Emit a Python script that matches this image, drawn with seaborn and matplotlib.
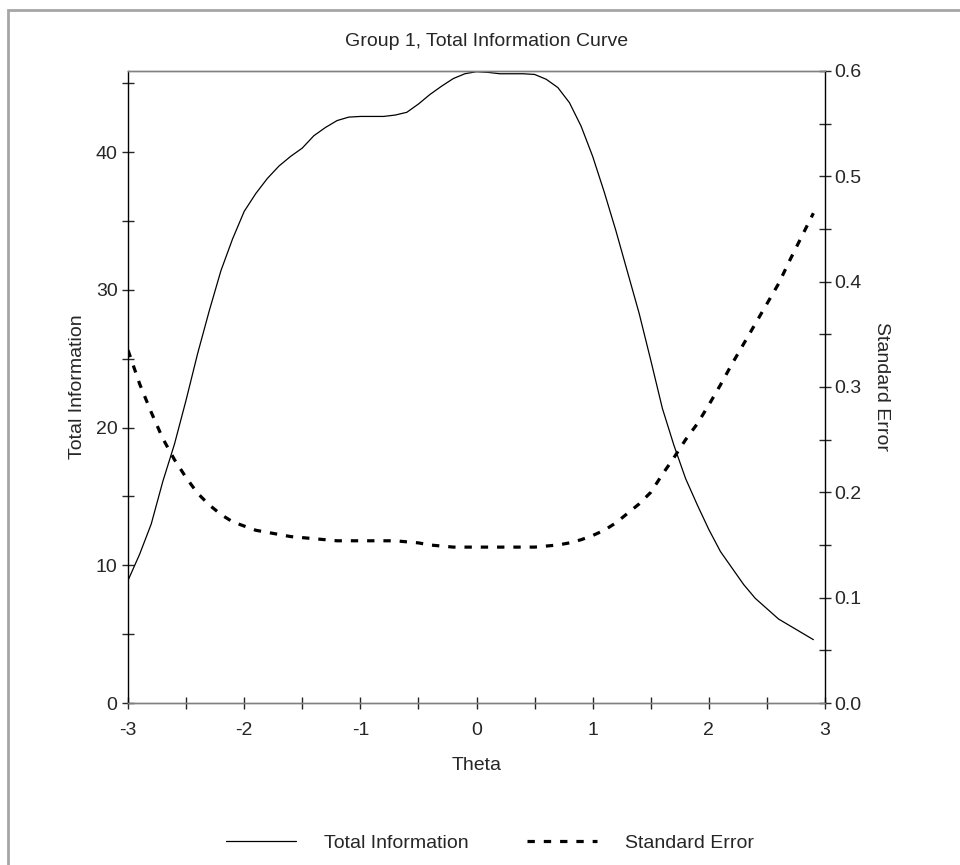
import numpy as np
import pandas as pd
import matplotlib
matplotlib.use("Agg")
import matplotlib.pyplot as plt
import seaborn as sns
from matplotlib.patches import Rectangle
from matplotlib.ticker import MultipleLocator, FormatStrFormatter

# values
theta = [-3.0, -2.9, -2.8, -2.7, -2.6, -2.5, -2.4, -2.3, -2.2, -2.1,
         -2.0, -1.9, -1.8, -1.7, -1.6, -1.5, -1.4, -1.3, -1.2, -1.1,
         -1.0, -0.9, -0.8, -0.7, -0.6, -0.5, -0.4, -0.3, -0.2, -0.1,
         0.0, 0.1, 0.2, 0.3, 0.4, 0.5, 0.6, 0.7, 0.8, 0.9,
         1.0, 1.1, 1.2, 1.3, 1.4, 1.5, 1.6, 1.7, 1.8, 1.9,
         2.0, 2.1, 2.2, 2.3, 2.4, 2.5, 2.6, 2.7, 2.8, 2.9]

total_info = [8.9, 10.8, 13.0, 16.1, 18.8, 22.0, 25.4, 28.5, 31.4, 33.7,
              35.7, 37.0, 38.1, 39.0, 39.7, 40.3, 41.2, 41.8, 42.3, 42.55,
              42.6, 42.6, 42.6, 42.7, 42.9, 43.5, 44.2, 44.8, 45.35, 45.7,
              45.85, 45.8, 45.7, 45.7, 45.7, 45.65, 45.3, 44.7, 43.6, 41.9,
              39.7, 37.1, 34.3, 31.3, 28.3, 24.9, 21.4, 18.7, 16.3, 14.4,
              12.6, 11.0, 9.8, 8.6, 7.6, 6.85, 6.1, 5.6, 5.1, 4.6]

std_err = [0.335, 0.303, 0.276, 0.251, 0.231, 0.214, 0.199, 0.188, 0.179, 0.172,
           0.168, 0.164, 0.162, 0.160, 0.158, 0.157, 0.156, 0.155, 0.154, 0.154,
           0.154, 0.154, 0.154, 0.154, 0.153, 0.152, 0.150, 0.149, 0.148, 0.148,
           0.148, 0.148, 0.148, 0.148, 0.148, 0.148, 0.149, 0.150, 0.152, 0.155,
           0.159, 0.164, 0.171, 0.180, 0.189, 0.200, 0.217, 0.233, 0.250, 0.265,
           0.283, 0.302, 0.322, 0.341, 0.360, 0.379, 0.398, 0.421, 0.443, 0.465]

df = pd.DataFrame({"Theta": theta, "Total Information": total_info,
                   "Standard Error": std_err})

sns.set_style("ticks")
plt.rcParams["font.family"] = ["Liberation Sans", "DejaVu Sans"]
plt.rcParams["axes.unicode_minus"] = False
fs = 14

fig = plt.figure(figsize=(9.6, 8.65), dpi=100)
ax = fig.add_axes([128 / 960, 1 - 703 / 865, 697 / 960, 632 / 865])
ax2 = ax.twinx()

sns.lineplot(data=df, x="Theta", y="Total Information", ax=ax,
             color="black", lw=0.9, label="Total Information")
sns.lineplot(data=df, x="Theta", y="Standard Error", ax=ax2,
             color="black", lw=2.3, linestyle=(0, (2.3, 2.8)),
             label="Standard Error")

ax.set_xlim(-3, 3)
ax.set_ylim(0, 45.9)
ax2.set_ylim(0, 0.6)

for a in (ax, ax2):
    a.get_legend().remove()
    for s in a.spines.values():
        s.set_linewidth(1.0)
    a.spines["top"].set_color("#808080")
    a.spines["bottom"].set_color("#808080")
ax.spines["right"].set_visible(False)
ax2.spines["left"].set_visible(False)
ax.spines["left"].set_color("black")
ax2.spines["right"].set_color("black")

ax.xaxis.set_major_locator(MultipleLocator(1))
ax.xaxis.set_minor_locator(MultipleLocator(0.5))
ax.yaxis.set_major_locator(MultipleLocator(10))
ax.yaxis.set_minor_locator(MultipleLocator(5))
ax2.yaxis.set_major_locator(MultipleLocator(0.1))
ax2.yaxis.set_minor_locator(MultipleLocator(0.05))
ax2.yaxis.set_major_formatter(FormatStrFormatter("%.1f"))

ax.tick_params(axis="x", which="both", direction="inout", length=9, width=1,
               labelsize=fs, pad=9)
ax.tick_params(axis="y", which="both", direction="inout", length=9, width=1,
               labelsize=fs, pad=3)
ax2.tick_params(axis="y", which="both", direction="inout", length=9, width=1,
                labelsize=fs, pad=2)

ax.set_xlabel("Theta", fontsize=fs, labelpad=13)
ax.set_ylabel("Total Information", fontsize=fs, labelpad=7)
ax2.set_ylabel("Standard Error", fontsize=fs, rotation=270, labelpad=21)

fig.text(487 / 960, 1 - 41 / 865, "Group 1, Total Information Curve",
         ha="center", va="center", fontsize=fs)

fig.legend(handles=[ax.lines[0], ax2.lines[0]],
           labels=["Total Information", "Standard Error"],
           loc="center", bbox_to_anchor=(490 / 960, 1 - 843 / 865), ncol=2,
           frameon=False, fontsize=fs, handlelength=3.6, handletextpad=1.45,
           columnspacing=3.0)

# grey outer frame of the original window
fig.patches.append(Rectangle((8 / 960, -0.2), 1.2, 1.2 - 10 / 865,
                             transform=fig.transFigure, fill=False,
                             edgecolor="#a6a6a6", lw=2))

fig.savefig("out.png", dpi=100)
